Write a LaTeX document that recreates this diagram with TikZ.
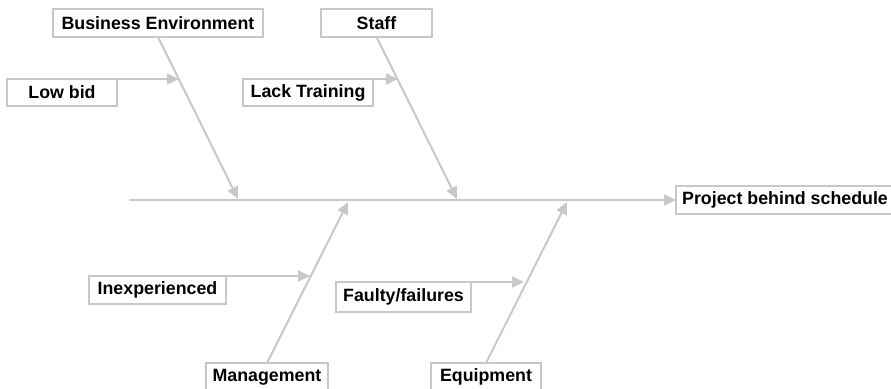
\documentclass[tikz,border=0pt]{standalone}
\usepackage{fontspec}
\setmainfont{Liberation Sans}
\usetikzlibrary{arrows.meta,positioning}
\definecolor{bonegray}{RGB}{200,200,200}
\tikzset{
    cause/.style={
           rectangle,
           draw=bonegray,
           line width=2pt,
           fill=white,
           minimum height=28pt,
           inner sep=0pt,
           outer sep=0pt,
           font=\fontsize{17.8}{20}\selectfont\bfseries,
           text centered,
           },
}

\begin{document}
\begin{tikzpicture}[
  x=1pt,y=-1pt,
  bone/.style={draw=bonegray,line width=2pt,
    -{Triangle[length=12pt,width=11pt,fill=bonegray]}}]
\useasboundingbox (0,0) rectangle (891,388);
\node[cause,minimum width=210pt](busenv) at (158,23){Business Environment};
\node[cause,minimum width=111pt](staff) at (376.5,23){Staff};
\node[cause,minimum width=110pt,minimum height=27pt](lowbid) at (62,92.5){Low bid};
\node[cause,minimum width=130pt,minimum height=27pt](lacktrain) at (308,92.5){Lack Training};
\node[cause,minimum width=137pt](inexp) at (157.5,290){Inexperienced};
\node[cause,minimum width=135pt,minimum height=30pt](faulty) at (403.5,297){Faulty/failures};
\node[cause,minimum width=122pt](mgmt) at (267,377){Management};
\node[cause,minimum width=110pt](equip) at (486,377){Equipment};
\node[cause,minimum width=218pt](effect) at (785,200){Project behind schedule};

% spine and bone ends
\coordinate (tail) at (129,200);
\coordinate (busenvtip) at (238,199);
\coordinate (stafftip) at (457,199);
\coordinate (mgmttip) at (348,202);
\coordinate (equiptip) at (567,202);
\coordinate (lowbidtip) at (179,0);
\coordinate (lacktraintip) at (398,0);
\coordinate (inexptip) at (310,0);
\coordinate (faultytip) at (524,0);

\draw[bone] (tail) -- (tail -| effect.west);
\draw[bone] (busenv.south) -- (busenvtip);
\draw[bone] (staff.south) -- (stafftip);
\draw[bone] (mgmt.north) -- (mgmttip);
\draw[bone] (equip.north) -- (equiptip);
\draw[bone] (lowbid.north east) -- (lowbid.north east -| lowbidtip);
\draw[bone] (lacktrain.north east) -- (lacktrain.north east -| lacktraintip);
\draw[bone] (inexp.north east) -- (inexp.north east -| inexptip);
\draw[bone] (faulty.north east) -- (faulty.north east -| faultytip);
\end{tikzpicture}
\end{document}
